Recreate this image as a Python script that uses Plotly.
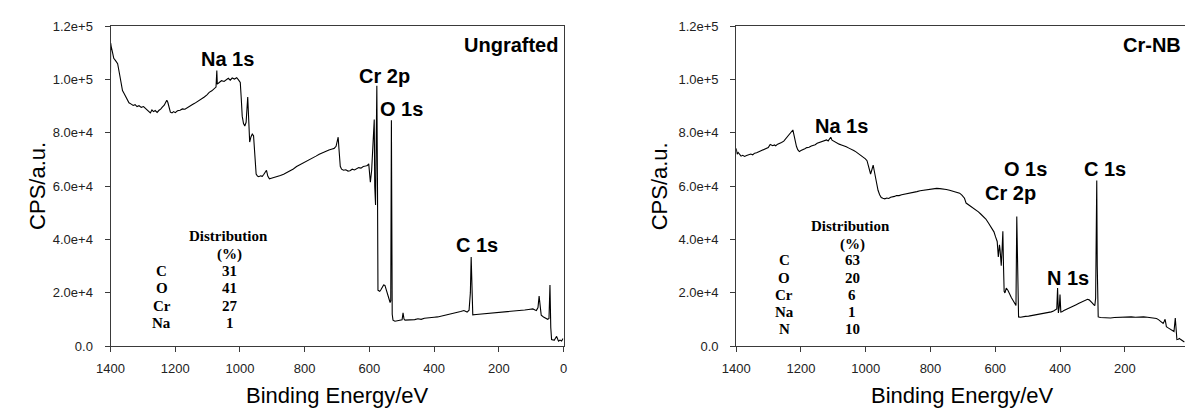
import plotly.graph_objects as go

# ---------------- data ----------------
# Survey XPS spectrum, ungrafted sample: binding energy (eV) / counts per second
ungrafted_be = [
    1400, 1399.5, 1398, 1394, 1390, 1385, 1378, 1372, 1366, 1363, 1358, 1353, 1348, 1343,
    1336, 1330, 1324, 1318, 1312, 1305, 1298, 1292, 1286, 1280, 1277, 1272, 1267, 1262,
    1256, 1250, 1245, 1240, 1234, 1229, 1226, 1223, 1219, 1215, 1210, 1205, 1200, 1193,
    1185, 1178, 1170, 1162, 1155, 1148, 1140, 1132, 1124, 1116, 1110, 1102, 1095, 1087,
    1080, 1074, 1071.5, 1070, 1064, 1057, 1049, 1042, 1036, 1030, 1024, 1017, 1010, 1004,
    999, 996, 993, 989, 985, 981, 978.5, 976, 973, 970, 966, 962, 958, 954, 950, 946, 942,
    936, 931, 926, 922, 918, 914, 909, 903, 895, 886, 875, 865, 855, 845, 835, 825, 815,
    805, 795, 785, 775, 765, 755, 745, 735, 725, 715, 709, 703, 699, 696.5, 694, 690, 686,
    680, 673, 666, 660, 653, 646, 640, 633, 626, 619, 612, 606, 602, 599, 597, 593, 589,
    585, 583.5, 581, 579.5, 577, 575, 573.5, 571, 568, 564, 560, 556, 552, 548, 544, 540,
    536, 534, 532, 529.5, 527, 521, 514, 505, 499, 496, 493, 490, 480, 470, 460, 450, 440,
    430, 420, 410, 400, 389, 378, 367, 356, 345, 338, 328, 318, 308, 303, 298, 292, 288,
    285.5, 283, 280.5, 270, 260, 250, 237, 225, 212, 200, 186, 175, 160, 148, 135, 120,
    108, 95, 88, 84, 79, 75.5, 73, 69, 62, 55, 49, 45, 42, 39.5, 37, 33, 29, 25, 21.5,
    18, 15.5, 11, 6, 1.5,
]
ungrafted_cps = [
    102600, 113700, 112500, 110300, 108000, 107200, 106000, 102000, 97500, 95900, 94800,
    93500, 92300, 91300, 90800, 90300, 90600, 89900, 90200, 89600, 89900, 89300, 88700,
    88000, 87500, 88600, 88000, 88400, 87700, 88500, 88900, 89700, 90400, 91600, 92300,
    91500, 89000, 87800, 87500, 88000, 87600, 88300, 88500, 89000, 88900, 89600, 90200,
    90600, 91100, 91700, 92400, 93000, 93500, 94300, 95200, 95800, 96500, 97200, 103400,
    98300, 98900, 99600, 99300, 100100, 100500, 99800, 100600, 100200, 100700, 99800,
    98900, 93000, 86300, 83500, 82600, 84000, 91000, 93500, 85000, 76600, 78500, 79600,
    79000, 72000, 64600, 63800, 63600, 63900, 63700, 64500, 65300, 66000, 63800, 62800,
    63000, 63300, 63400, 64000, 64500, 65100, 66000, 66500, 67400, 68000, 68600, 69300,
    69800, 70600, 71300, 72000, 72600, 73200, 73600, 74000, 74200, 75000, 78000, 78400,
    74000, 67500, 66400, 66000, 66200, 65700, 65800, 66400, 66100, 66600, 67000, 66800,
    67400, 67600, 67800, 68400, 64500, 61500, 66000, 76000, 85000, 60000, 53000, 70000,
    97700, 60000, 21000, 20800, 20600, 21300, 22300, 23000, 22800, 21000, 19000, 17300,
    16400, 17000, 84800, 12000, 9800, 9400, 9600, 9700, 9900, 12500, 10200, 9800, 9800,
    9900, 10000, 10300, 10100, 10500, 10700, 10800, 10900, 11000, 11300, 11500, 11700,
    12000, 12200, 12600, 13000, 13400, 13100, 12800, 13500, 20000, 33500, 15000, 11800,
    11900, 12000, 12100, 12200, 12400, 12500, 12600, 12800, 12900, 13100, 13300, 13400,
    13600, 13800, 14000, 13600, 13400, 14500, 18800, 16000, 11600, 11000, 10500, 10100,
    10400, 23000, 7000, 2500, 2400, 2200, 3000, 3700, 2600, 1900, 2300, 2000, 2900,
]

# Survey XPS spectrum, Cr-NB sample
crnb_be = [
    1400, 1397, 1394, 1390, 1385, 1380, 1374, 1368, 1362, 1355, 1349, 1343, 1337, 1331,
    1325, 1319, 1313, 1307, 1301, 1295, 1292, 1287, 1282, 1278, 1272, 1266, 1260, 1253,
    1247, 1241, 1236, 1231, 1227, 1225, 1222, 1218, 1214, 1210, 1205, 1200, 1194, 1188,
    1182, 1175, 1168, 1162, 1156, 1150, 1144, 1136, 1128, 1121, 1116, 1112, 1108, 1104,
    1099, 1094, 1088, 1082, 1075, 1068, 1060, 1052, 1045, 1037, 1030, 1022, 1015, 1008,
    1001, 996, 992, 988, 985, 981, 977, 974, 970, 966, 962, 957, 952, 947, 941, 935, 929,
    923, 917, 911, 905, 897, 889, 880, 872, 862, 852, 842, 832, 822, 812, 802, 792, 781,
    771, 761, 751, 741, 731, 721, 710, 703, 698, 695, 690, 684, 678, 672, 666, 660, 652,
    645, 638, 629, 621, 612, 604, 599, 594, 590.5, 587, 585, 581.5, 579, 576.5, 574.5,
    572.5, 570, 566, 561, 556, 550, 544, 539, 536, 533.5, 531, 528, 522, 515, 507, 497,
    488, 478, 468, 458, 447, 437, 427, 420, 414, 410, 407.5, 405, 402, 400, 397.5, 394,
    388, 380, 372, 366, 358, 350, 343, 335, 328, 322, 315, 310, 305, 300, 296, 292.6,
    290, 286.5, 285, 282, 275, 265, 255, 244, 232, 220, 207, 193, 180, 167, 155, 142,
    130, 118, 108, 102, 96, 90, 85, 81.5, 78, 75.5, 73, 71.5, 66, 61, 56, 52, 48, 44, 41,
    39, 35, 31, 27, 23, 19, 16,
]
crnb_cps = [
    74200, 72000, 72700, 71900, 71300, 71600, 71200, 71500, 71800, 72100, 71800, 72400,
    72600, 72900, 73000, 73300, 73800, 74200, 74500, 75700, 75400, 75200, 75500, 75200,
    75800, 76000, 76400, 76900, 77800, 78500, 79200, 80000, 80800, 81100, 79500, 77000,
    75000, 73700, 73000, 73400, 73900, 74100, 74500, 74600, 75100, 75300, 75600, 76100,
    76400, 76900, 77200, 77400, 77000, 77800, 78400, 77300, 76900, 76600, 76200, 75800,
    75500, 75300, 74800, 74300, 74000, 73400, 72900, 72200, 71700, 71000, 70300, 69600,
    68000, 65500, 64600, 66200, 67900, 66000, 63400, 60500, 58500, 56800, 55800, 55500,
    55300, 55600, 55400, 55900, 56000, 56200, 56500, 56500, 56800, 57000, 57100, 57500,
    57800, 58000, 58300, 58500, 58700, 58900, 59000, 59200, 59100, 59000, 58800, 58500,
    58200, 57900, 57400, 56700, 55800, 55500, 53700, 53200, 52700, 52200, 51800, 51300,
    50400, 49600, 48700, 47700, 46200, 44600, 42900, 41000, 39300, 33500, 38000, 36000,
    30200, 36000, 43100, 30000, 20600, 20000, 21800, 21000, 19500, 18200, 17000, 16000,
    15300, 48700, 20000, 11000, 10900, 11100, 11200, 11300, 11500, 11700, 11800, 12000,
    12200, 12500, 12900, 13200, 13600, 14000, 21800, 12500, 15000, 19400, 12800, 12900,
    13400, 13800, 14200, 14600, 15100, 15600, 16000, 16400, 16900, 17300, 17600, 17400,
    16900, 16200, 15600, 15200, 18000, 62200, 30000, 11000, 10800, 10700, 10600, 10600,
    10800, 10900, 10900, 11000, 11000, 10900, 11000, 11000, 10900, 10800, 10600, 10400,
    10000, 9500, 8900, 8600, 9400, 10100, 8500, 7300, 6900, 6500, 6100, 5800, 5500, 10600,
    5000, 2500, 2600, 2900, 2500, 2200, 1900, 1600,
]

# Surface composition tables (%)
ungrafted_elements = ["C", "O", "Cr", "Na"]
ungrafted_percent = [31, 41, 27, 1]
crnb_elements = ["C", "O", "Cr", "Na", "N"]
crnb_percent = [63, 20, 6, 1, 10]

# Axis ticks
y_tickvals = [0, 20000, 40000, 60000, 80000, 100000, 120000]
y_ticktext = ["0.0", "2.0e+4", "4.0e+4", "6.0e+4", "8.0e+4", "1.0e+5", "1.2e+5"]
x_tickvals_left = [1400, 1200, 1000, 800, 600, 400, 200, 0]
x_tickvals_right = [1400, 1200, 1000, 800, 600, 400, 200]

# ---------------- layout helpers ----------------
W, H = 1189, 414


def px(x):
    return x / W


def py(y):
    return 1 - y / H


SANS = "Liberation Sans, Arial, sans-serif"
SERIF = "Liberation Serif, Times New Roman, serif"
AXIS_COLOR = "#3a3a3a"

fig = go.Figure()
fig.add_trace(go.Scatter(x=ungrafted_be, y=ungrafted_cps, mode="lines",
                         line=dict(color="black", width=1.1), xaxis="x", yaxis="y",
                         showlegend=False, hoverinfo="skip"))
fig.add_trace(go.Scatter(x=crnb_be, y=crnb_cps, mode="lines",
                         line=dict(color="black", width=1.1), xaxis="x2", yaxis="y2",
                         showlegend=False, hoverinfo="skip"))

y_dom = [py(352), py(20)]
common_axis = dict(showgrid=False, zeroline=False, showline=True, linecolor=AXIS_COLOR,
                   linewidth=1, ticks="outside", ticklen=5, tickcolor=AXIS_COLOR,
                   tickwidth=1, tickfont=dict(family=SANS, size=13, color="#222"))

fig.update_layout(
    width=W, height=H, margin=dict(l=0, r=0, t=0, b=0),
    paper_bgcolor="white", plot_bgcolor="white",
    xaxis=dict(domain=[px(98), px(558)], range=[1400, 0], anchor="y", mirror=True,
               tickvals=x_tickvals_left, ticklabelstandoff=5, **common_axis),
    yaxis=dict(domain=y_dom, range=[0, 120000], anchor="x", mirror=True,
               tickvals=y_tickvals, ticktext=y_ticktext, ticklabelstandoff=9, **common_axis),
    xaxis2=dict(domain=[px(733.3), 1.0], range=[1400, 14], anchor="y2", mirror=True,
                tickvals=x_tickvals_right, ticklabelstandoff=5, **common_axis),
    yaxis2=dict(domain=y_dom, range=[0, 120000], anchor="x2", mirror=False,
                tickvals=y_tickvals, ticktext=y_ticktext, ticklabelstandoff=9, **common_axis),
)

annotations = []


def text(x, y, s, size, family=SANS, bold=False, xanchor="center", angle=0):
    annotations.append(dict(
        x=px(x), y=py(y), xref="paper", yref="paper", text=f"<b>{s}</b>" if bold else s,
        showarrow=False, xanchor=xanchor, yanchor="middle", textangle=angle,
        font=dict(family=family, size=size, color="black")))


# axis titles
text(24, 186, "CPS/a.u.", 22, angle=-90)
text(655, 186, "CPS/a.u.", 22, angle=-90)
text(328, 403, "Binding Energy/eV", 22)
text(963, 403, "Binding Energy/eV", 22)

# panel names
text(554, 39, "Ungrafted", 20, bold=True, xanchor="right")
text(1187, 39, "Cr-NB", 20, bold=True, xanchor="right")

# peak labels, ungrafted
text(217, 54, "Na 1s", 20, bold=True)
text(376, 72, "Cr 2p", 20, bold=True)
text(393, 106, "O 1s", 20, bold=True)
text(470, 247, "C 1s", 20, bold=True)

# peak labels, Cr-NB
text(840, 123, "Na 1s", 20, bold=True)
text(1027, 168, "O 1s", 20, bold=True)
text(1012, 193, "Cr 2p", 20, bold=True)
text(1108, 168, "C 1s", 20, bold=True)
text(1070, 281, "N 1s", 20, bold=True)

# composition tables
text(218, 238, "Distribution", 15, family=SERIF, bold=True)
text(219, 257, "(%)", 15, family=SERIF, bold=True)
for i, (el, pc) in enumerate(zip(ungrafted_elements, ungrafted_percent)):
    yy = 274 + i * 17.9
    text(150, yy, el, 15, family=SERIF, bold=True)
    text(219, yy, str(pc), 15, family=SERIF, bold=True)

text(849, 227, "Distribution", 15, family=SERIF, bold=True)
text(851, 246, "(%)", 15, family=SERIF, bold=True)
for i, (el, pc) in enumerate(zip(crnb_elements, crnb_percent)):
    yy = 263 + i * 17.8
    text(782, yy, el, 15, family=SERIF, bold=True)
    text(851, yy, str(pc), 15, family=SERIF, bold=True)

fig.update_layout(annotations=annotations)
fig.write_html("out.html")
